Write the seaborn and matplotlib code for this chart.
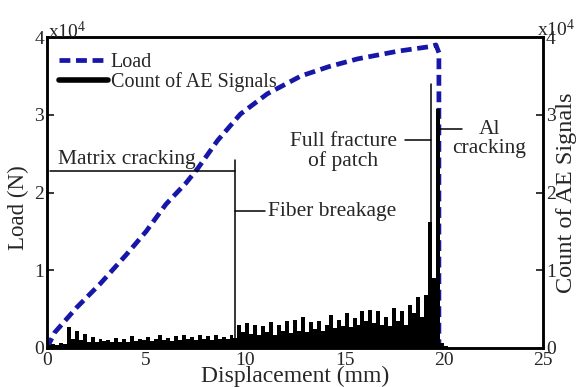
import numpy as np
import pandas as pd
import matplotlib
matplotlib.use("Agg")
import matplotlib.pyplot as plt
import seaborn as sns
from matplotlib.lines import Line2D

# load-displacement curve (load in units of 1e4 N)
disp_mm = [0, 0.4, 1.5, 2.7, 4.0, 5.0, 6.0, 7.0, 7.6, 8.6, 9.75, 11.1, 12.8, 14.2,
           15.65, 17.7, 19.35, 19.6, 19.75, 19.75]
load_1e4 = [0, 0.2, 0.52, 0.83, 1.2, 1.5, 1.85, 2.12, 2.31, 2.67, 3.01, 3.27, 3.5, 3.62,
            3.72, 3.82, 3.88, 3.9, 3.8, 0]

# AE signal counts (units of 1e4) in 0.2 mm bins starting at 0 mm
ae_count_1e4 = [
    0.04, 0.05, 0.04, 0.06, 0.05,
    0.27, 0.12, 0.22, 0.10, 0.18,
    0.08, 0.14, 0.07, 0.12, 0.09,
    0.10, 0.07, 0.13, 0.08, 0.11,
    0.08, 0.15, 0.09, 0.12, 0.10,
    0.14, 0.09, 0.12, 0.17, 0.10,
    0.13, 0.09, 0.15, 0.10, 0.16,
    0.11, 0.14, 0.10, 0.16, 0.12,
    0.15, 0.10, 0.17, 0.12, 0.14,
    0.11, 0.16, 0.13, 0.30, 0.20,
    0.32, 0.18, 0.30, 0.16, 0.28,
    0.20, 0.33, 0.17, 0.30, 0.22,
    0.34, 0.19, 0.36, 0.22, 0.40,
    0.20, 0.33, 0.24, 0.35, 0.22,
    0.30, 0.42, 0.25, 0.36, 0.28,
    0.45, 0.27, 0.38, 0.30, 0.48,
    0.35, 0.49, 0.32, 0.47, 0.30,
    0.40, 0.28, 0.51, 0.35, 0.47,
    0.30, 0.55, 0.45, 0.65, 0.40,
    0.68, 1.62, 0.90, 3.07, 0.06,
    0.02,
]
bin_width = 0.2

x_ticks = [0, 5, 10, 15, 20, 25]
y_ticks = [0, 1, 2, 3, 4]

sns.set_style("ticks")
plt.rcParams["font.family"] = ["Liberation Serif", "DejaVu Serif"]
plt.rcParams["mathtext.fontset"] = "custom"
plt.rcParams["mathtext.rm"] = "Liberation Serif"
plt.rcParams["mathtext.default"] = "regular"

blue = "#1616a8"
fs_tick = 14
fs_note = 15.5

fig = plt.figure(figsize=(5.79, 3.87), dpi=100)
ax = fig.add_axes([0.081, 0.101, 0.857, 0.803])
ax2 = ax.twinx()

load_df = pd.DataFrame({"disp": disp_mm, "load": load_1e4})
sns.lineplot(data=load_df, x="disp", y="load", sort=False, ax=ax, color=blue,
             linewidth=3.4, estimator=None)
ax.lines[0].set_dashes((2.3, 1.2))

n_bins = len(ae_count_1e4)
ae_df = pd.DataFrame({
    "pos": np.arange(n_bins) * bin_width + bin_width / 2,
    "count": ae_count_1e4,
})
sns.histplot(data=ae_df, x="pos", weights="count", binwidth=bin_width,
             binrange=(0, n_bins * bin_width), ax=ax2, color="black",
             alpha=1, linewidth=0)

for a in (ax, ax2):
    a.set_xlim(0, 25)
    a.set_ylim(0, 4)
    a.set_yticks(y_ticks)
    for s in a.spines.values():
        s.set_linewidth(1.8)
        s.set_color("black")
        s.set_visible(True)
    a.tick_params(direction="in", length=5, width=1.3, labelsize=fs_tick, pad=2)

ax.set_xticks(x_ticks)
ax.tick_params(axis="x", length=0, pad=3)
ax2.tick_params(axis="y", pad=2)
ax.set_xlabel("Displacement (mm)", fontsize=17, labelpad=-2)
ax.set_ylabel("Load (N)", fontsize=16.5)
ax.yaxis.set_label_coords(-0.036, 0.45)
ax2.set_ylabel("Count of AE Signals", fontsize=17.5, labelpad=0)

# annotations
lw_a = 1.1
ax2.plot([0.15, 9.48], [2.28, 2.28], color="black", lw=lw_a)
ax2.plot([9.48, 9.48], [0, 2.42], color="black", lw=lw_a)
ax2.text(0.55, 2.37, "Matrix cracking", fontsize=fs_note, ha="left", va="baseline")
ax2.plot([9.48, 11.0], [1.76, 1.76], color="black", lw=lw_a)
ax2.text(11.15, 1.76, "Fiber breakage", fontsize=fs_note, ha="left", va="center")
ax2.plot([19.34, 19.34], [0, 3.4], color="black", lw=lw_a)
ax2.plot([18.05, 19.34], [2.67, 2.67], color="black", lw=lw_a)
ax2.text(14.94, 2.53, "Full fracture\nof patch", fontsize=fs_note, ha="center",
         va="center", linespacing=1.05)
ax2.plot([19.8, 20.9], [2.82, 2.82], color="black", lw=lw_a)
ax2.text(22.3, 2.69, "Al\ncracking", fontsize=fs_note, ha="center", va="center",
         linespacing=1.05)

fig.text(0.083, 0.918, "x10$^{4}$", fontsize=fs_tick, ha="left", va="center")
fig.text(0.928, 0.925, "x10$^{4}$", fontsize=fs_tick, ha="left", va="center")

handles = [Line2D([], [], color=blue, lw=3.4, dashes=(2.3, 1.2)),
           Line2D([], [], color="black", lw=4)]
ax2.legend(handles, ["Load", "Count of AE Signals"], loc="upper left",
           bbox_to_anchor=(0.025, 0.95), frameon=False, fontsize=14.5,
           handlelength=2.4, handletextpad=0.15, labelspacing=0.0,
           borderaxespad=0, borderpad=0)

fig.savefig("out.png", dpi=100)
